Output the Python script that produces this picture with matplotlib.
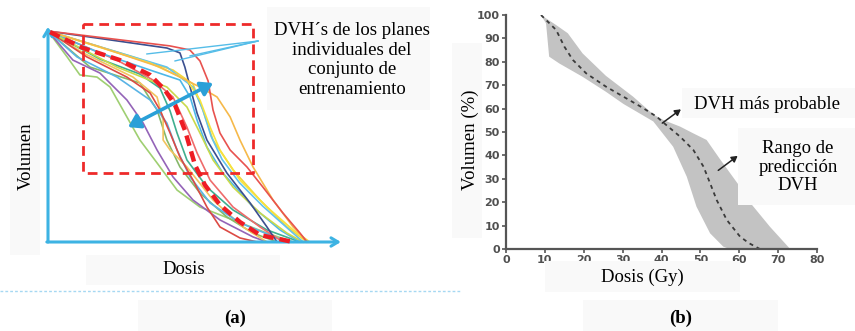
import numpy as np
import matplotlib.pyplot as plt
from matplotlib.patches import Rectangle
from matplotlib.lines import Line2D

# --- panel (a): schematic DVH curves of the training plans (dose, volume in arbitrary units)
red_top = [(0, 99.5), (42, 92.5), (48.9, 90.6), (52.4, 85.4), (55.2, 76), (56.9, 62.3), (59.3, 51.4),
           (62.8, 43.4), (68.6, 35.4), (74.1, 25.9), (81, 13.7), (86.9, 4.2), (89.3, 0)]
navy = [(0, 99.5), (41, 91.5), (45.5, 89.2), (47.2, 82.5), (49, 73.1), (51.4, 60.8), (54.8, 48.1),
        (61.7, 32.5), (69.7, 18.4), (75.5, 7.1), (79, 0)]
lightblue_a = [(0, 99.5), (17.9, 89.2), (35.2, 81.1), (45.5, 76.4), (49, 68.4), (51.4, 57.5), (54.8, 44.8),
               (60.3, 32.5), (70.7, 16.5), (80, 5.7), (86.9, 0)]
yellow_a = [(0, 99.5), (29.3, 87.3), (43.1, 81.1), (50, 74.5), (53.4, 62.3), (56.9, 48.1), (63.8, 34),
            (73.1, 19.8), (82.4, 7.1), (89.3, 0)]
orange = [(0, 99.5), (17.9, 92), (38.6, 82.5), (52.4, 73.1), (58.3, 68.4), (62.8, 59), (66.2, 48.1),
          (70.7, 35.4), (77.6, 19.8), (84.5, 7.1), (89.7, 0)]
gold = [(0, 99.5), (12.1, 89.2), (29.3, 77.8), (37.6, 68.4), (39.7, 57.5), (39.7, 48.1), (42.1, 43.4),
        (47.9, 35.4), (56.9, 19.8), (67.2, 7.1), (75.5, 0)]
light_green = [(0, 99.5), (6.6, 87.3), (11, 78.8), (16.9, 77.8), (21.4, 73.1), (27.2, 59), (31.7, 48.1),
               (37.6, 37.3), (44.5, 24.5), (52.4, 16.5), (63.8, 10.4), (75.5, 4.2), (84.5, 0)]
purple = [(0, 99.5), (8.6, 85.8), (17.9, 79.7), (27.2, 67), (32.8, 56.1), (37.6, 43.4), (43.1, 30.7),
          (50, 19.8), (59.3, 10.4), (70.7, 2.4), (75.5, 0)]
red_low = [(0, 99.5), (13.4, 87.3), (27.2, 77.8), (35.2, 70.3), (38.6, 62.3), (42.1, 51.4), (45.5, 40.1),
           (50, 29.2), (54.8, 16.5), (59.3, 7.1), (66.2, 1.9), (72.1, 0)]
teal = [(0, 99.5), (17.9, 86.3), (31.7, 79.2), (38.6, 72.6), (42.1, 61.8), (44.5, 51.4), (47.9, 38.7),
        (54.8, 25.9), (63.8, 15.1), (75.5, 5.7), (86.9, 0)]
pink = [(0, 99.5), (23.8, 85.8), (36.2, 76.4), (43.1, 68.4), (47.9, 54.2), (51.4, 42), (55.9, 29.2),
        (63.8, 16.5), (73.1, 7.1), (81, 0)]
lightblue_b = [(0, 99.5), (10, 87.3), (23.8, 77.8), (35.2, 67), (41, 56.1), (44.5, 43.4), (49, 30.7),
               (55.9, 18.4), (66.2, 9), (79, 1.9), (84.5, 0)]
yellowgreen = [(0, 99.5), (23.8, 82.5), (41, 73.1), (47.9, 63.7), (52.4, 51.4), (56.9, 38.7), (63.8, 25.9),
               (73.1, 13.7), (82.4, 4.2), (87.9, 0)]
yellow_b = [(0, 99.5), (35.2, 84.4), (47.9, 76.4), (52.4, 67), (55.9, 54.2), (59.3, 43.4), (66.2, 29.2),
            (75.5, 16.5), (84.5, 5.7), (90.3, 0)]
lightblue_c = [(0, 99.5), (41, 82.5), (50, 73.1), (53.4, 62.3), (56.2, 50), (60, 39), (66, 28),
               (74, 17), (83, 6), (88, 0)]
sage = [(0, 99.5), (14.5, 82.5), (31.7, 75), (37.6, 62.3), (41, 48.1), (45.5, 35.4), (52.4, 23.1),
        (61.7, 11.8), (70.7, 4.2), (79, 0)]
mean_dvh = [(0.7, 99), (12.1, 91.5), (24.8, 85.8), (35.2, 78.8), (40.3, 71.7), (43.8, 64.6), (47.2, 52.8),
            (50.7, 36.3), (54.1, 26.9), (59.3, 17.5), (66.2, 9.4), (73.1, 3.3), (84.5, 0)]

# --- panel (b): predicted DVH and prediction range
dvh_x = [9.0, 10.3, 12.9, 15.0, 17.2, 20.6, 25.7, 30.2, 35.0, 38.8, 40.5, 44.8, 48.2, 50.8, 52.5, 54.2,
         56.8, 60.2, 62.5, 65.3]
dvh_y = [100, 97.9, 93.6, 86.5, 80.8, 75.1, 69.4, 65.1, 60.5, 56.5, 54.0, 48.0, 42.3, 35.2, 28.1, 20.9,
         12.4, 5.3, 2.5, 0]
upper_x = [9.0, 12.9, 15.9, 19.7, 25.7, 32.7, 37.9, 40.5, 44.8, 48.2, 51.6, 55.0, 59.8, 63.2, 67.9, 73.1]
upper_y = [100, 95.7, 92.2, 83.6, 74.0, 65.1, 57.5, 55.1, 52.3, 49.4, 46.6, 38.5, 27.5, 19.0, 9.5, 0]
lower_x = [9.0, 10.3, 11.1, 13.7, 19.7, 25.7, 30.2, 37.9, 39.6, 43.0, 46.5, 49.0, 52.5, 55.9, 57.5]
lower_y = [100, 96.4, 82.2, 79.3, 73.6, 67.2, 62.0, 54.5, 50.9, 43.7, 30.9, 18.1, 6.7, 1.0, 0]
x_ticks = list(range(0, 81, 10))
y_ticks = list(range(0, 101, 10))

W, H = 855, 331
fig = plt.figure(figsize=(W / 100, H / 100), dpi=100)


def px(x, y):
    # pixel position (from top-left) -> figure fraction
    return x / W, 1 - y / H


def fbox(x0, y0, x1, y1, color='#f9f9f9'):
    fig.patches.append(Rectangle((x0 / W, 1 - y1 / H), (x1 - x0) / W, (y1 - y0) / H,
                                 transform=fig.transFigure, facecolor=color, edgecolor='none', zorder=1))


serif = 'Liberation Serif'
blue = '#3db3e3'

# ---------- panel (a)
ax_a = fig.add_axes([48 / W, 1 - 242 / H, 290 / W, 212 / H])
ax_a.set_xlim(0, 100)
ax_a.set_ylim(0, 100)
ax_a.axis('off')

curves = [(light_green, '#9fcf72'), (sage, '#86b86a'), (purple, '#9464b8'), (gold, '#f2c35e'),
          (lightblue_b, '#5ab4e5'), (red_low, '#dc4a44'), (teal, '#3fae8e'), (pink, '#ef6b6b'),
          (lightblue_a, '#4db8e8'), (yellowgreen, '#c9d94c'), (yellow_a, '#f2d63a'), (lightblue_c, '#63c3ec'),
          (navy, '#3b4f8f'), (yellow_b, '#f7e33d'), (orange, '#f6b94a'), (red_top, '#e8524f')]
for pts, col in curves:
    xs, ys = zip(*pts)
    ax_a.plot(xs, ys, color=col, lw=1.2, clip_on=False, solid_joinstyle='round')

mx, my = zip(*mean_dvh)
ax_a.plot(mx, my, color='#ee1c24', lw=3.2, dashes=(2.4, 1.3), clip_on=False, zorder=5)

# dashed selection box
ax_a.plot([12.1, 70.7, 70.7, 12.1, 12.1], [102.8, 102.8, 32.5, 32.5, 102.8], color='#ee2a2a',
          lw=2.0, dashes=(3.5, 2.2), clip_on=False, zorder=4)

# axes arrows
ax_a.annotate('', xy=(0, 101.5), xytext=(0, 0), annotation_clip=False,
              arrowprops=dict(arrowstyle='->,head_length=0.5,head_width=0.3', color=blue, lw=2.2,
                              shrinkA=0, shrinkB=0))
ax_a.annotate('', xy=(101, 0), xytext=(-0.4, 0), annotation_clip=False,
              arrowprops=dict(arrowstyle='->,head_length=0.5,head_width=0.3', color=blue, lw=2.2,
                              shrinkA=0, shrinkB=0))

# pointer lines from the label
for tx, ty in [(34.1, 88.7), (43.8, 85.4), (49.0, 87.8)]:
    ax_a.plot([72.4, tx], [94.8, ty], color='#55bde8', lw=1.0, clip_on=False, zorder=6)

# double-headed arrow across the spread
ax_a.annotate('', xy=(27.6, 54.2), xytext=(56.9, 75.0), annotation_clip=False, zorder=7,
              arrowprops=dict(arrowstyle='<|-|>,head_length=0.7,head_width=0.45', color='#2aa0d8',
                              lw=2.6, shrinkA=0, shrinkB=0))

# ---------- panel (b)
ax_b = fig.add_axes([506 / W, 1 - 249 / H, 311 / W, 234 / H])
ax_b.set_xlim(0, 80)
ax_b.set_ylim(0, 100)
ax_b.fill(upper_x + lower_x[::-1], upper_y + lower_y[::-1], color='#c3c3c3', lw=0, zorder=1)
ax_b.plot(dvh_x, dvh_y, color='#3a3a3a', lw=1.3, dashes=(2.2, 2.2), zorder=2)
for s in ['top', 'right']:
    ax_b.spines[s].set_visible(False)
for s in ['left', 'bottom']:
    ax_b.spines[s].set_color('#555555')
    ax_b.spines[s].set_linewidth(1.6)
ax_b.set_xticks(x_ticks)
ax_b.set_yticks(y_ticks)
ax_b.tick_params(length=3, width=1.2, color='#555555', pad=1.5, labelsize=8, labelcolor='#505050')
for lab in ax_b.get_xticklabels() + ax_b.get_yticklabels():
    lab.set_fontweight('bold')

ax_b.annotate('', xy=(45.0, 59.7), xytext=(40.2, 53.8), annotation_clip=False,
              arrowprops=dict(arrowstyle='-|>,head_length=0.35,head_width=0.2', color='#222222',
                              lw=1.1, shrinkA=0, shrinkB=0))
ax_b.annotate('', xy=(59.6, 39.8), xytext=(54.6, 33.6), annotation_clip=False,
              arrowprops=dict(arrowstyle='-|>,head_length=0.35,head_width=0.2', color='#222222',
                              lw=1.1, shrinkA=0, shrinkB=0))

# faint label backgrounds (they sit over the plot like in the source image)
fbox(10, 58, 40, 255)
fbox(86, 255, 280, 285)
fbox(138, 300, 332, 331)
fbox(267, 7, 430, 110)
fbox(452, 43, 482, 238)
fbox(545, 261, 740, 292)
fbox(583, 300, 778, 331)
fbox(682, 88, 855, 118)
fbox(738, 128, 855, 205)

# separator
fig.lines.append(Line2D([0, 460 / W], [1 - 291 / H, 1 - 291 / H], transform=fig.transFigure,
                        color='#a6d8f2', lw=1.0, dashes=(2, 1.5)))

# texts
fig.text(*px(352, 60), 'DVH´s de los planes\nindividuales del\nconjunto de\nentrenamiento',
         family=serif, fontsize=13.5, ha='center', va='center', linespacing=1.2, zorder=3)
fig.text(*px(26, 156), 'Volumen', family=serif, fontsize=13.5, rotation=90, ha='center', va='center', zorder=3)
fig.text(*px(184, 270), 'Dosis', family=serif, fontsize=13.5, ha='center', va='center', zorder=3)
fig.text(*px(235, 318), '(a)', family=serif, fontsize=13.5, weight='bold', ha='center', va='center', zorder=3)
fig.text(*px(470, 140), 'Volumen (%)', family=serif, fontsize=13.5, rotation=90, ha='center', va='center', zorder=3)
fig.text(*px(642, 277), 'Dosis (Gy)', family=serif, fontsize=13.5, ha='center', va='center', zorder=3)
fig.text(*px(681, 318), '(b)', family=serif, fontsize=13.5, weight='bold', ha='center', va='center', zorder=3)
fig.text(*px(767, 104), 'DVH más probable', family=serif, fontsize=13.5, ha='center', va='center', zorder=3)
fig.text(*px(798, 167), 'Rango de\npredicción\nDVH', family=serif, fontsize=13.5, ha='center', va='center',
         linespacing=1.15, zorder=3)

fig.savefig('out.png', dpi=100, facecolor='white')
